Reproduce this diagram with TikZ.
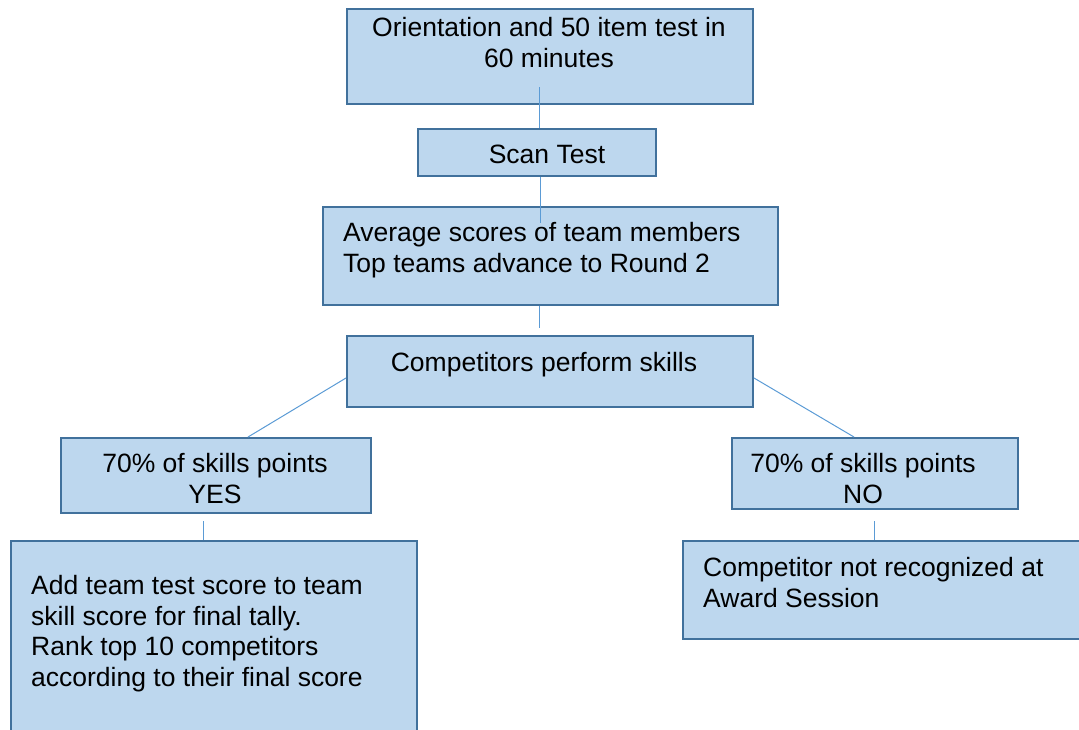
\documentclass[tikz,border=0pt]{standalone}
\usepackage{fontspec}
\setmainfont{Liberation Sans}
\definecolor{boxfill}{HTML}{BDD7EE}
\definecolor{boxline}{HTML}{41719C}
\definecolor{conn}{HTML}{5B9BD5}
\begin{document}
\begin{tikzpicture}[x=1pt,y=-1pt,
  box/.style={draw=boxline,fill=boxfill,line width=2.6pt,rectangle,inner sep=0pt},
  txt/.style={inner sep=0pt,font=\fontsize{26.5pt}{30.5pt}\selectfont,text=black},
  link/.style={draw=conn,line width=1pt}]
\useasboundingbox (0,0) rectangle (1079,729);
% boxes
\node[box,minimum width=406pt,minimum height=95pt] (b1) at (550,56.5) {};
\node[box,minimum width=238pt,minimum height=47pt] (b2) at (537,152.5) {};
\node[box,minimum width=455pt,minimum height=98pt] (b3) at (550.5,256) {};
\node[box,minimum width=406pt,minimum height=71pt] (b4) at (550,371.5) {};
\node[box,minimum width=310pt,minimum height=75pt] (b5) at (216,475.5) {};
\node[box,minimum width=286pt,minimum height=71pt] (b6) at (875,473.5) {};
\node[box,minimum width=406pt,minimum height=204pt] (b7) at (214,643) {};
\node[box,minimum width=409pt,minimum height=98pt] (b8) at (887.5,590) {};
% texts (base anchor = baseline of the last line)
\node[txt,anchor=base,align=center] (t1) at (549,67) {Orientation and 50 item test in\\60 minutes};
\node[txt,anchor=base] (t2) at (547,163) {Scan Test};
\node[txt,anchor=base west,align=left] (t3) at (343,272) {Average scores of team members\\Top teams advance to Round 2};
\node[txt,anchor=base] (t4) at (544,371) {Competitors perform skills};
\node[txt,anchor=base,align=center] (t5) at (215,503) {70\% of skills points\\YES};
\node[txt,anchor=base,align=center] (t6) at (863,503) {70\% of skills points\\NO};
\node[txt,anchor=base west,align=left] (t7) at (31,686) {Add team test score to team\\skill score for final tally.\\Rank top 10 competitors\\according to their final score};
\node[txt,anchor=base west,align=left] (t8) at (703,607) {Competitor not recognized at\\Award Session};
% connector ends
\coordinate (c1) at (539,87);
\coordinate (c2) at (540,223);
\coordinate (c3) at (539,328);
\coordinate (c4) at (346,378);
\coordinate (c5) at (248,437);
\coordinate (c6) at (754,378);
\coordinate (c7) at (854,437);
\coordinate (c8) at (203,521);
\coordinate (c9) at (874,521);
% connectors
\draw[link] (c1) -- (c1 |- b2.north);
\draw[link] (c2 |- b2.south) -- (c2);
\draw[link] (c3 |- b3.south) -- (c3);
\draw[link] (c4) -- (c5);
\draw[link] (c6) -- (c7);
\draw[link] (c8) -- (c8 |- b7.north);
\draw[link] (c9) -- (c9 |- b8.north);
\end{tikzpicture}
\end{document}
